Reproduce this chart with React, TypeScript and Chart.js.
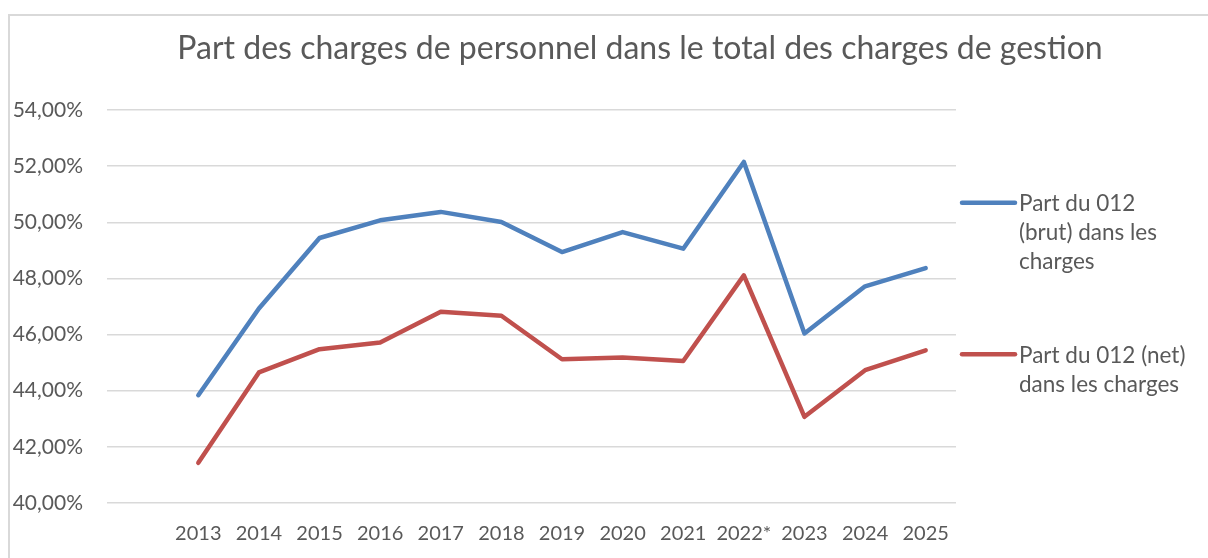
import React, { useEffect, useRef } from "react";
import { Chart, registerables } from "chart.js";

Chart.register(...registerables);

const TITLE = "Part des charges de personnel dans le total des charges de gestion";
const CATEGORIES = ["2013", "2014", "2015", "2016", "2017", "2018", "2019", "2020", "2021", "2022*", "2023", "2024", "2025"];
const BRUT_VALUES = [43.84, 46.93, 49.44, 50.07, 50.37, 50.01, 48.94, 49.65, 49.06, 52.15, 46.04, 47.72, 48.37];
const NET_VALUES = [41.43, 44.65, 45.48, 45.72, 46.81, 46.67, 45.12, 45.18, 45.06, 48.11, 43.07, 44.73, 45.44];
const BRUT_LEGEND = ["Part du 012", "(brut) dans les", "charges"];
const NET_LEGEND = ["Part du 012 (net)", "dans les charges"];
const Y_MIN = 40;
const Y_MAX = 54;
const Y_STEP = 2;

const BLUE = "#4f81bd";
const RED = "#c0504d";
const TEXT = "#595959";
const GRID = "#d9d9d9";
const FONT = "Lato, 'Open Sans', sans-serif";

const titlePlugin = {
  id: "centeredTitle",
  afterDraw(chart: any) {
    const { ctx, width } = chart;
    ctx.save();
    ctx.font = `32px ${FONT}`;
    ctx.fillStyle = TEXT;
    ctx.textAlign = "center";
    ctx.textBaseline = "middle";
    ctx.fillText(TITLE, width / 2, 33);
    ctx.restore();
  },
};

const legendPlugin = {
  id: "sideLegend",
  afterDraw(chart: any) {
    const { ctx, chartArea } = chart;
    const items = [
      { lines: BRUT_LEGEND, color: BLUE, dy: 92.7 },
      { lines: NET_LEGEND, color: RED, dy: 244.3 },
    ];
    ctx.save();
    ctx.font = `22.5px ${FONT}`;
    ctx.textBaseline = "middle";
    ctx.textAlign = "left";
    for (const it of items) {
      const y0 = chartArea.top + it.dy;
      const x0 = chartArea.right + 4;
      ctx.strokeStyle = it.color;
      ctx.lineWidth = 4.5;
      ctx.lineCap = "round";
      ctx.beginPath();
      ctx.moveTo(x0 + 2, y0);
      ctx.lineTo(x0 + 55, y0);
      ctx.stroke();
      ctx.fillStyle = TEXT;
      it.lines.forEach((t, i) => ctx.fillText(t, x0 + 59, y0 + 1 + i * 29));
    }
    ctx.restore();
  },
};

export default function App() {
  const ref = useRef<HTMLCanvasElement>(null);
  useEffect(() => {
    if (!ref.current) return;
    document.body.style.overflow = "hidden";
    const chart = new Chart(ref.current, {
      type: "line",
      data: {
        labels: CATEGORIES,
        datasets: [
          {
            label: BRUT_LEGEND.join(" "),
            data: BRUT_VALUES,
            borderColor: BLUE,
            backgroundColor: BLUE,
            borderWidth: 4.5,
            pointRadius: 0,
            tension: 0,
            borderCapStyle: "round",
            borderJoinStyle: "round",
          },
          {
            label: NET_LEGEND.join(" "),
            data: NET_VALUES,
            borderColor: RED,
            backgroundColor: RED,
            borderWidth: 4.5,
            pointRadius: 0,
            tension: 0,
            borderCapStyle: "round",
            borderJoinStyle: "round",
          },
        ],
      },
      options: {
        responsive: false,
        animation: false,
        layout: { padding: { left: 0, top: 94, right: 314, bottom: 0 } },
        plugins: {
          legend: { display: false },
          tooltip: { enabled: false },
          title: { display: false },
        },
        scales: {
          x: {
            offset: true,
            grid: { display: false, drawTicks: false },
            border: { display: false },
            ticks: { color: TEXT, font: { family: FONT, size: 20 }, padding: 19, maxRotation: 0, autoSkip: false },
            afterFit: (s: any) => { s.height = 55; },
          },
          y: {
            min: Y_MIN,
            max: Y_MAX,
            grid: { color: GRID, lineWidth: 1.5, tickLength: 61, drawTicks: true },
            border: { display: false },
            ticks: {
              stepSize: Y_STEP,
              color: TEXT,
              font: { family: FONT, size: 21 },
              padding: 24,
              callback: (v: any) => Number(v).toFixed(2).replace(".", ",") + "%",
            },
            afterFit: (s: any) => { s.width = 158; },
          },
        },
      },
      plugins: [titlePlugin, legendPlugin],
    });
    return () => chart.destroy();
  }, []);

  return (
    <div style={{ position: "fixed", left: 0, top: 0, width: 1208, height: 558, overflow: "hidden", background: "#fff" }}>
      <div style={{ position: "absolute", left: 8, top: 14, width: 1264, height: 560, borderLeft: `2px solid ${GRID}`, borderTop: `2px solid ${GRID}` }}>
        <canvas ref={ref} width={1260} height={542} style={{ display: "block" }} />
      </div>
    </div>
  );
}
